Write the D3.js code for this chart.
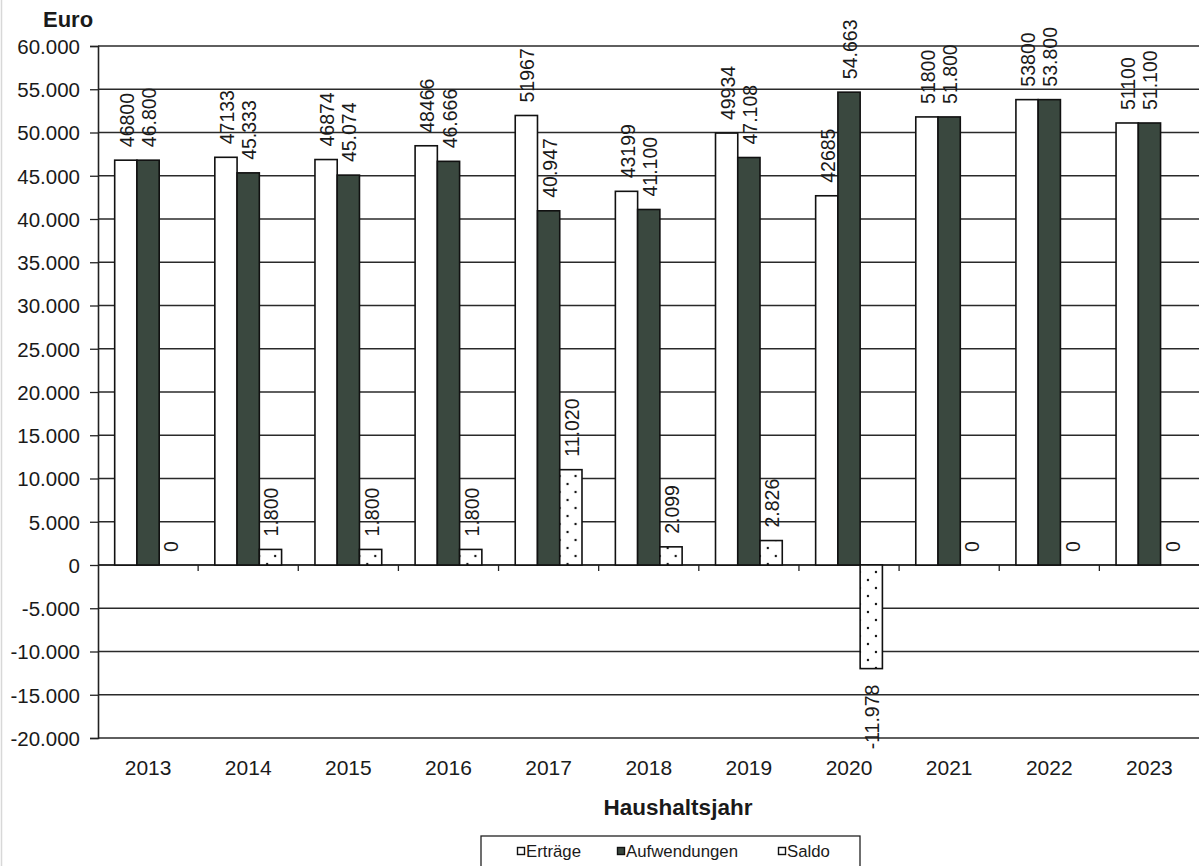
<!DOCTYPE html>
<html>
<head>
<meta charset="utf-8">
<script src="https://cdn.jsdelivr.net/npm/d3@7"></script>
<style>
html, body { margin: 0; padding: 0; background: #fff; }
svg { display: block; font-family: Arial, "Liberation Sans", sans-serif; }
</style>
</head>
<body>
<svg id="chart" width="1199" height="866"></svg>
<script>
const years = ["2013","2014","2015","2016","2017","2018","2019","2020","2021","2022","2023"];
const ertraege = [46800, 47133, 46874, 48466, 51967, 43199, 49934, 42685, 51800, 53800, 51100];
const aufwendungen = [46800, 45333, 45074, 46666, 40947, 41100, 47108, 54663, 51800, 53800, 51100];
const saldo = [0, 1800, 1800, 1800, 11020, 2099, 2826, -11978, 0, 0, 0];
const seriesNames = ["Erträge", "Aufwendungen", "Saldo"];
const yTicks = [60000, 55000, 50000, 45000, 40000, 35000, 30000, 25000, 20000, 15000, 10000, 5000, 0, -5000, -10000, -15000, -20000];

const svg = d3.select("#chart");
const W = 1199, H = 866;
const pLeft = 98, pRight = 1199.5, pTop = 46, pBottom = 738;

const de = d3.formatLocale({decimal: ",", thousands: ".", grouping: [3], currency: ["", " €"], minus: "-"});
const fmtDot = de.format(",.0f");
const fmtPlain = d3.format(".0f");

const x = d3.scaleBand().domain(years).range([pLeft, pRight]).padding(0);
const bw = x.bandwidth();
const xs = d3.scaleBand().domain(seriesNames).range([0, bw]).paddingInner(0).paddingOuter(0.75);
const y = d3.scaleLinear().domain([-20000, 60000]).range([pBottom, pTop]);

// defs: dotted pattern
const defs = svg.append("defs");
const pat = defs.append("pattern").attr("id", "dots").attr("patternUnits", "userSpaceOnUse")
  .attr("width", 16).attr("height", 16);
pat.append("rect").attr("width", 16).attr("height", 16).attr("fill", "#fff");
pat.append("circle").attr("cx", 5).attr("cy", 4).attr("r", 1.2).attr("fill", "#111");
pat.append("circle").attr("cx", 13).attr("cy", 12).attr("r", 1.2).attr("fill", "#111");

// faint outer border line at left
svg.append("line").attr("x1", 1.5).attr("x2", 1.5).attr("y1", 0).attr("y2", H)
  .attr("stroke", "#d8d8d8").attr("stroke-width", 1.5);

// gridlines
svg.append("g").selectAll("line").data(yTicks).join("line")
  .attr("x1", pLeft).attr("x2", pRight)
  .attr("y1", d => y(d)).attr("y2", d => y(d))
  .attr("stroke", "#2a2a2a").attr("stroke-width", 1.3);

// y axis
const yAxis = d3.axisLeft(y).tickValues(yTicks).tickSize(8).tickPadding(10).tickFormat(d => fmtDot(d));
const gy = svg.append("g").attr("transform", `translate(${pLeft},0)`).call(yAxis);
gy.select(".domain").attr("stroke", "#222").attr("stroke-width", 1.6);
gy.selectAll(".tick line").attr("stroke", "#222").attr("stroke-width", 1.3);
gy.selectAll(".tick text").attr("font-size", 20.5).attr("fill", "#1a1a1a")
  .attr("font-family", "Arial, 'Liberation Sans', sans-serif").attr("dy", "0.36em");

// x axis at zero with ticks at category boundaries
const gx = svg.append("g");
gx.append("line").attr("x1", pLeft).attr("x2", pRight).attr("y1", y(0)).attr("y2", y(0))
  .attr("stroke", "#222").attr("stroke-width", 1.5);
gx.selectAll("line.bt").data(years.slice(1)).join("line").attr("class", "bt")
  .attr("x1", d => x(d)).attr("x2", d => x(d))
  .attr("y1", y(0)).attr("y2", y(0) + 6).attr("stroke", "#222").attr("stroke-width", 1.3);

// year labels
svg.append("g").selectAll("text").data(years).join("text")
  .attr("x", d => x(d) + bw / 2).attr("y", 775)
  .attr("text-anchor", "middle").attr("font-size", 21).attr("fill", "#1a1a1a")
  .text(d => d);

// bars
const rows = years.map((yr, i) => ({yr, vals: [
  {s: "Erträge", v: ertraege[i], label: fmtPlain(ertraege[i])},
  {s: "Aufwendungen", v: aufwendungen[i], label: fmtDot(aufwendungen[i])},
  {s: "Saldo", v: saldo[i], label: fmtDot(saldo[i])}
]}));
const fills = {"Erträge": "#ffffff", "Aufwendungen": "#3a483f", "Saldo": "url(#dots)"};

const groups = svg.append("g").selectAll("g").data(rows).join("g")
  .attr("transform", d => `translate(${x(d.yr)},0)`);

groups.selectAll("rect").data(d => d.vals.filter(v => v.v !== 0)).join("rect")
  .attr("x", d => xs(d.s)).attr("width", xs.bandwidth())
  .attr("y", d => y(Math.max(0, d.v))).attr("height", d => Math.abs(y(d.v) - y(0)))
  .attr("fill", d => fills[d.s]).attr("stroke", "#111").attr("stroke-width", 1.6);

groups.selectAll("text").data(d => d.vals).join("text")
  .attr("transform", d => {
    const cx = xs(d.s) + xs.bandwidth() / 2 + 1;
    const yy = d.v >= 0 ? y(d.v) - 13 : y(d.v) + 16;
    return `translate(${cx},${yy}) rotate(-90)`;
  })
  .attr("text-anchor", d => d.v >= 0 ? "start" : "end")
  .attr("dy", "0.36em")
  .attr("font-size", 19.5).attr("fill", "#1a1a1a")
  .text(d => d.label);

// titles
svg.append("text").attr("x", 43).attr("y", 27).attr("font-size", 22).attr("font-weight", "bold")
  .attr("fill", "#1a1a1a").text("Euro");
svg.append("text").attr("x", 678).attr("y", 815).attr("text-anchor", "middle")
  .attr("font-size", 22.5).attr("font-weight", "bold").attr("fill", "#1a1a1a").text("Haushaltsjahr");

// legend
const lg = svg.append("g");
lg.append("rect").attr("x", 481).attr("y", 836).attr("width", 379).attr("height", 40)
  .attr("fill", "#fff").attr("stroke", "#222").attr("stroke-width", 1.3);
const legendX = [517, 617, 778];
const legendFill = {"Erträge": "#ffffff", "Aufwendungen": "#3a483f", "Saldo": "#ffffff"};
const li = lg.selectAll("g").data(seriesNames).join("g")
  .attr("transform", (d, i) => `translate(${legendX[i]},0)`);
li.append("rect").attr("x", 0.5).attr("y", 847.5).attr("width", 7).attr("height", 7)
  .attr("fill", d => legendFill[d]).attr("stroke", "#111").attr("stroke-width", 1.4);
li.append("text").attr("x", 9).attr("y", 857).attr("font-size", 16.8).attr("fill", "#1a1a1a")
  .text(d => d);
</script>
</body>
</html>
